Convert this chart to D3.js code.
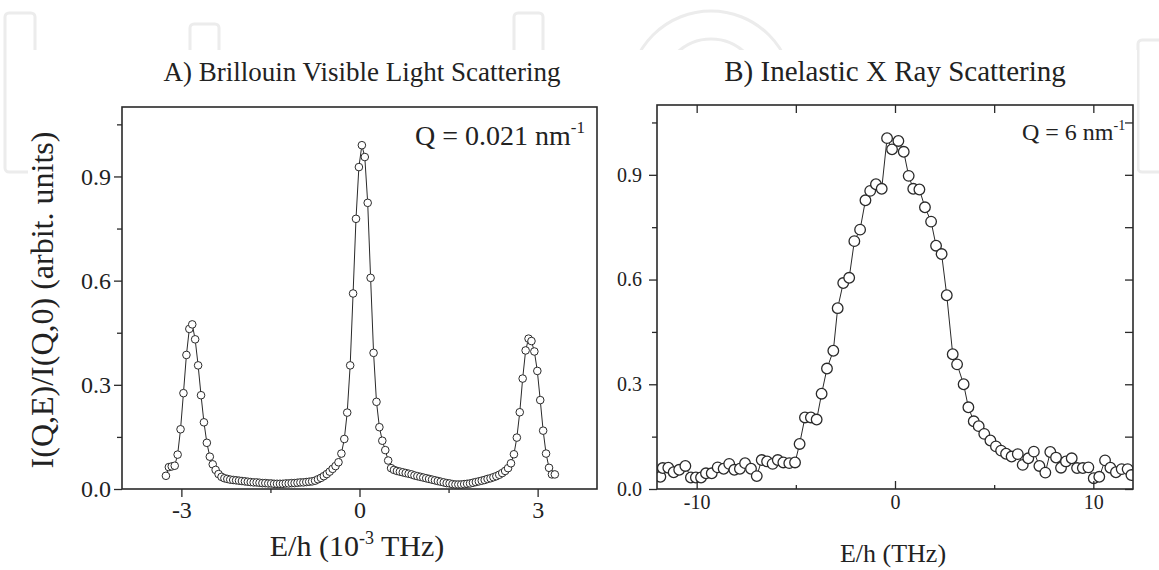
<!DOCTYPE html>
<html>
<head>
<meta charset="utf-8">
<script src="https://cdn.jsdelivr.net/npm/d3@7"></script>
<style>
  body { margin: 0; background: #fff; }
  text { font-family: "Liberation Serif", "DejaVu Serif", serif; fill: #222; }
</style>
</head>
<body>
<svg id="chart" width="1159" height="570"></svg>
<script>
// ---- data ----
// A) Brillouin visible light scattering, E/h in 1e-3 THz
const brillouinEnergy = [
  -3.260, -3.211, -3.162, -3.112, -3.063, -3.014, -2.965, -2.915, -2.866, -2.817,
  -2.768, -2.718, -2.669, -2.620, -2.571, -2.521, -2.472, -2.423, -2.374, -2.324,
  -2.275, -2.226, -2.177, -2.127, -2.078, -2.029, -1.980, -1.930, -1.881, -1.832,
  -1.783, -1.733, -1.684, -1.635, -1.586, -1.536, -1.487, -1.438, -1.389, -1.339,
  -1.290, -1.241, -1.192, -1.142, -1.093, -1.044, -0.995, -0.945, -0.896, -0.847,
  -0.798, -0.748, -0.699, -0.650, -0.601, -0.551, -0.502, -0.453, -0.404, -0.354,
  -0.305, -0.256, -0.207, -0.157, -0.108, -0.059, -0.010, 0.040, 0.089, 0.138,
  0.187, 0.237, 0.286, 0.335, 0.384, 0.434, 0.483, 0.532, 0.581, 0.631,
  0.680, 0.729, 0.778, 0.828, 0.877, 0.926, 0.975, 1.025, 1.074, 1.123,
  1.172, 1.222, 1.271, 1.320, 1.369, 1.419, 1.468, 1.517, 1.566, 1.616,
  1.665, 1.714, 1.763, 1.813, 1.862, 1.911, 1.960, 2.010, 2.059, 2.108,
  2.157, 2.207, 2.256, 2.305, 2.354, 2.404, 2.453, 2.502, 2.551, 2.601,
  2.650, 2.699, 2.748, 2.798, 2.847, 2.896, 2.945, 2.995, 3.044, 3.093,
  3.142, 3.192, 3.241, 3.290
];
const brillouinIntensity = [
  0.038, 0.063, 0.065, 0.067, 0.099, 0.172, 0.276, 0.386, 0.461, 0.474,
  0.431, 0.356, 0.270, 0.192, 0.133, 0.093, 0.071, 0.055, 0.043, 0.035,
  0.031, 0.029, 0.027, 0.026, 0.025, 0.024, 0.023, 0.022, 0.021, 0.020,
  0.019, 0.019, 0.018, 0.017, 0.017, 0.016, 0.016, 0.015, 0.015, 0.015,
  0.015, 0.016, 0.016, 0.017, 0.017, 0.018, 0.019, 0.019, 0.020, 0.021,
  0.022, 0.024, 0.028, 0.032, 0.037, 0.043, 0.050, 0.058, 0.066, 0.077,
  0.102, 0.144, 0.220, 0.356, 0.563, 0.778, 0.927, 0.990, 0.956, 0.824,
  0.608, 0.392, 0.251, 0.178, 0.139, 0.112, 0.082, 0.060, 0.055, 0.052,
  0.050, 0.048, 0.046, 0.044, 0.042, 0.039, 0.037, 0.035, 0.033, 0.031,
  0.029, 0.027, 0.025, 0.023, 0.021, 0.019, 0.017, 0.016, 0.014, 0.013,
  0.013, 0.013, 0.014, 0.015, 0.016, 0.018, 0.020, 0.022, 0.024, 0.026,
  0.029, 0.031, 0.034, 0.037, 0.041, 0.046, 0.052, 0.060, 0.074, 0.100,
  0.148, 0.221, 0.318, 0.399, 0.433, 0.426, 0.396, 0.340, 0.256, 0.168,
  0.102, 0.061, 0.042, 0.042
];

// B) Inelastic X ray scattering, E/h in THz
const ixsEnergy = [
  -11.83, -11.71, -11.43, -11.16, -10.88, -10.57, -10.29, -10.04, -9.78, -9.53,
  -9.24, -8.94, -8.64, -8.36, -8.10, -7.82, -7.56, -7.26, -6.97, -6.72,
  -6.45, -6.17, -5.91, -5.63, -5.33, -5.04, -4.81, -4.54, -4.24, -3.95,
  -3.70, -3.43, -3.11, -2.89, -2.61, -2.31, -2.05, -1.76, -1.49, -1.25,
  -0.96, -0.67, -0.40, -0.15, 0.17, 0.44, 0.69, 0.92, 1.23, 1.51,
  1.82, 2.07, 2.35, 2.61, 2.91, 3.13, 3.46, 3.70, 3.97, 4.22,
  4.50, 4.81, 5.09, 5.35, 5.60, 5.88, 6.19, 6.44, 6.72, 7.00,
  7.28, 7.58, 7.83, 8.12, 8.37, 8.62, 8.91, 9.18, 9.47, 9.75,
  10.02, 10.30, 10.59, 10.86, 11.14, 11.43, 11.73, 11.92
];
const ixsIntensity = [
  0.035, 0.060, 0.061, 0.048, 0.055, 0.066, 0.033, 0.033, 0.033, 0.045,
  0.045, 0.062, 0.058, 0.072, 0.055, 0.058, 0.074, 0.058, 0.037, 0.083,
  0.079, 0.072, 0.083, 0.076, 0.074, 0.076, 0.129, 0.205, 0.205, 0.199,
  0.273, 0.345, 0.396, 0.518, 0.590, 0.605, 0.710, 0.743, 0.827, 0.854,
  0.873, 0.860, 1.005, 0.973, 0.997, 0.966, 0.897, 0.860, 0.858, 0.807,
  0.766, 0.697, 0.673, 0.555, 0.386, 0.357, 0.300, 0.234, 0.194, 0.180,
  0.158, 0.139, 0.122, 0.110, 0.101, 0.093, 0.100, 0.069, 0.088, 0.107,
  0.066, 0.047, 0.106, 0.090, 0.061, 0.079, 0.088, 0.060, 0.060, 0.062,
  0.031, 0.035, 0.082, 0.061, 0.048, 0.057, 0.057, 0.040
];

const yMajorTicks = [0, 0.3, 0.6, 0.9];
const yMinorTicks = [0.15, 0.45, 0.75, 1.05];
const brillouinMajorTicks = [-3, 0, 3];
const brillouinMinorTicks = [-1.5, 1.5];
const ixsMajorTicks = [-10, 0, 10];
const ixsMinorTicks = [-5, 5];

const svg = d3.select("#chart");
const width = +svg.attr("width");
const height = +svg.attr("height");
const ink = "#2a2a2a";

// faint watermark behind the figure (only its edges show)
const wm = svg.append("g")
  .attr("fill", "none")
  .attr("stroke", "#ececec")
  .attr("stroke-width", 3);
wm.append("rect").attr("x", 5).attr("y", 13).attr("width", 30).attr("height", 159).attr("rx", 4);
wm.append("rect").attr("x", 190).attr("y", 24).attr("width", 29).attr("height", 100).attr("rx", 4);
wm.append("rect").attr("x", 514).attr("y", 13).attr("width", 29).attr("height", 100).attr("rx", 4);
wm.append("circle").attr("cx", 711).attr("cy", 93).attr("r", 82);
wm.append("circle").attr("cx", 711).attr("cy", 88).attr("r", 49);
wm.append("rect").attr("x", 1138).attr("y", 40).attr("width", 40).attr("height", 132).attr("rx", 4);

// opaque figure area
svg.append("rect")
  .attr("x", 28).attr("y", 50)
  .attr("width", 1109).attr("height", height - 50)
  .attr("fill", "#fff");

const styleAxis = (g, fontSize) => {
  g.select(".domain").remove();
  g.selectAll("line").attr("stroke", ink).attr("stroke-width", 1.3);
  g.attr("font-family", null).attr("font-size", fontSize);
  g.selectAll("text").attr("fill", ink);
};

// plain hyphen for negatives, as in the original figure
const fmtTick = (d) => (d < 0 ? "-" : "") + Math.abs(d);

const drawPanel = (cfg) => {
  const x = d3.scaleLinear().domain(cfg.xDomain).range([cfg.left, cfg.right]);
  const y = d3.scaleLinear().domain([0, 1.1]).range([cfg.bottom, cfg.top]);
  const g = svg.append("g");

  g.append("clipPath").attr("id", cfg.id + "clip")
    .append("rect")
    .attr("x", cfg.left).attr("y", cfg.top)
    .attr("width", cfg.right - cfg.left).attr("height", cfg.bottom - cfg.top);

  const points = cfg.energy.map((e, i) => ({ e: e, v: cfg.intensity[i] }));

  const plot = g.append("g").attr("clip-path", "url(#" + cfg.id + "clip)");
  plot.append("path")
    .datum(points)
    .attr("fill", "none")
    .attr("stroke", ink)
    .attr("stroke-width", 1)
    .attr("d", d3.line().x(d => x(d.e)).y(d => y(d.v)));
  plot.selectAll("circle")
    .data(points)
    .join("circle")
    .attr("cx", d => x(d.e))
    .attr("cy", d => y(d.v))
    .attr("r", cfg.radius)
    .attr("fill", "#fff")
    .attr("stroke", ink)
    .attr("stroke-width", cfg.strokeW);

  // left axis: labelled majors, outward ticks
  const left = g.append("g").attr("transform", "translate(" + cfg.left + ",0)")
    .call(d3.axisLeft(y).tickValues(yMajorTicks).tickSize(8).tickPadding(cfg.yPad)
      .tickFormat(d3.format(".1f")));
  styleAxis(left, cfg.yFont);
  const leftMinor = g.append("g").attr("transform", "translate(" + cfg.left + ",0)")
    .call(d3.axisLeft(y).tickValues(yMinorTicks).tickSize(5).tickFormat(""));
  styleAxis(leftMinor, cfg.yFont);

  // bottom axis
  const bottom = g.append("g").attr("transform", "translate(0," + cfg.bottom + ")")
    .call(d3.axisBottom(x).tickValues(cfg.xMajor).tickSize(cfg.bottomTick).tickPadding(cfg.xPad)
      .tickFormat(fmtTick));
  styleAxis(bottom, cfg.xFont);
  const bottomMinor = g.append("g").attr("transform", "translate(0," + cfg.bottom + ")")
    .call(d3.axisBottom(x).tickValues(cfg.xMinor).tickSize(cfg.bottomTick / 2).tickFormat(""));
  styleAxis(bottomMinor, cfg.xFont);

  if (cfg.innerTicks) {
    const top = g.append("g").attr("transform", "translate(0," + cfg.top + ")")
      .call(d3.axisTop(x).tickValues(cfg.xMajor.concat(cfg.xMinor)).tickSize(-8).tickFormat(""));
    styleAxis(top, cfg.xFont);
    const right = g.append("g").attr("transform", "translate(" + cfg.right + ",0)")
      .call(d3.axisRight(y).tickValues(yMajorTicks.concat(yMinorTicks)).tickSize(-8).tickFormat(""));
    styleAxis(right, cfg.yFont);
  }

  // frame
  g.append("rect")
    .attr("x", cfg.left).attr("y", cfg.top)
    .attr("width", cfg.right - cfg.left).attr("height", cfg.bottom - cfg.top)
    .attr("fill", "none")
    .attr("stroke", ink)
    .attr("stroke-width", 1.6);

  return { x: x, y: y };
};

drawPanel({
  id: "brillouin",
  left: 122, right: 597, top: 107, bottom: 489,
  xDomain: [-4, 4],
  energy: brillouinEnergy, intensity: brillouinIntensity,
  xMajor: brillouinMajorTicks, xMinor: brillouinMinorTicks,
  radius: 3.8, strokeW: 1,
  yFont: 24, xFont: 24, yPad: 3, xPad: 4, bottomTick: 8,
  innerTicks: false
});

drawPanel({
  id: "ixs",
  left: 657, right: 1133, top: 105, bottom: 489,
  xDomain: [-12, 12],
  energy: ixsEnergy, intensity: ixsIntensity,
  xMajor: ixsMajorTicks, xMinor: ixsMinorTicks,
  radius: 5.3, strokeW: 1.3,
  yFont: 20, xFont: 20, yPad: 7, xPad: 6, bottomTick: -8,
  innerTicks: true
});

// titles
svg.append("text").attr("x", 362).attr("y", 81).attr("text-anchor", "middle")
  .attr("font-size", 27).text("A) Brillouin Visible Light Scattering");
svg.append("text").attr("x", 895).attr("y", 81).attr("text-anchor", "middle")
  .attr("font-size", 29).text("B) Inelastic X Ray Scattering");

// Q labels
const qA = svg.append("text").attr("x", 415).attr("y", 145).attr("font-size", 28);
qA.append("tspan").text("Q = 0.021 nm");
qA.append("tspan").attr("dy", -12).attr("font-size", 17).text("-1");

const qB = svg.append("text").attr("x", 1022).attr("y", 140).attr("font-size", 24);
qB.append("tspan").text("Q = 6 nm");
qB.append("tspan").attr("dy", -10).attr("font-size", 14).text("-1");

// axis titles
svg.append("text")
  .attr("transform", "translate(53,300)rotate(-90)")
  .attr("text-anchor", "middle")
  .attr("font-size", 32)
  .text("I(Q,E)/I(Q,0) (arbit. units)");

const xa = svg.append("text").attr("x", 357).attr("y", 556).attr("text-anchor", "middle").attr("font-size", 30);
xa.append("tspan").text("E/h (10");
xa.append("tspan").attr("dy", -12).attr("font-size", 18).text("-3");
xa.append("tspan").attr("dy", 12).text(" THz)");

svg.append("text").attr("x", 893).attr("y", 562).attr("text-anchor", "middle")
  .attr("font-size", 26).text("E/h (THz)");
</script>
</body>
</html>
